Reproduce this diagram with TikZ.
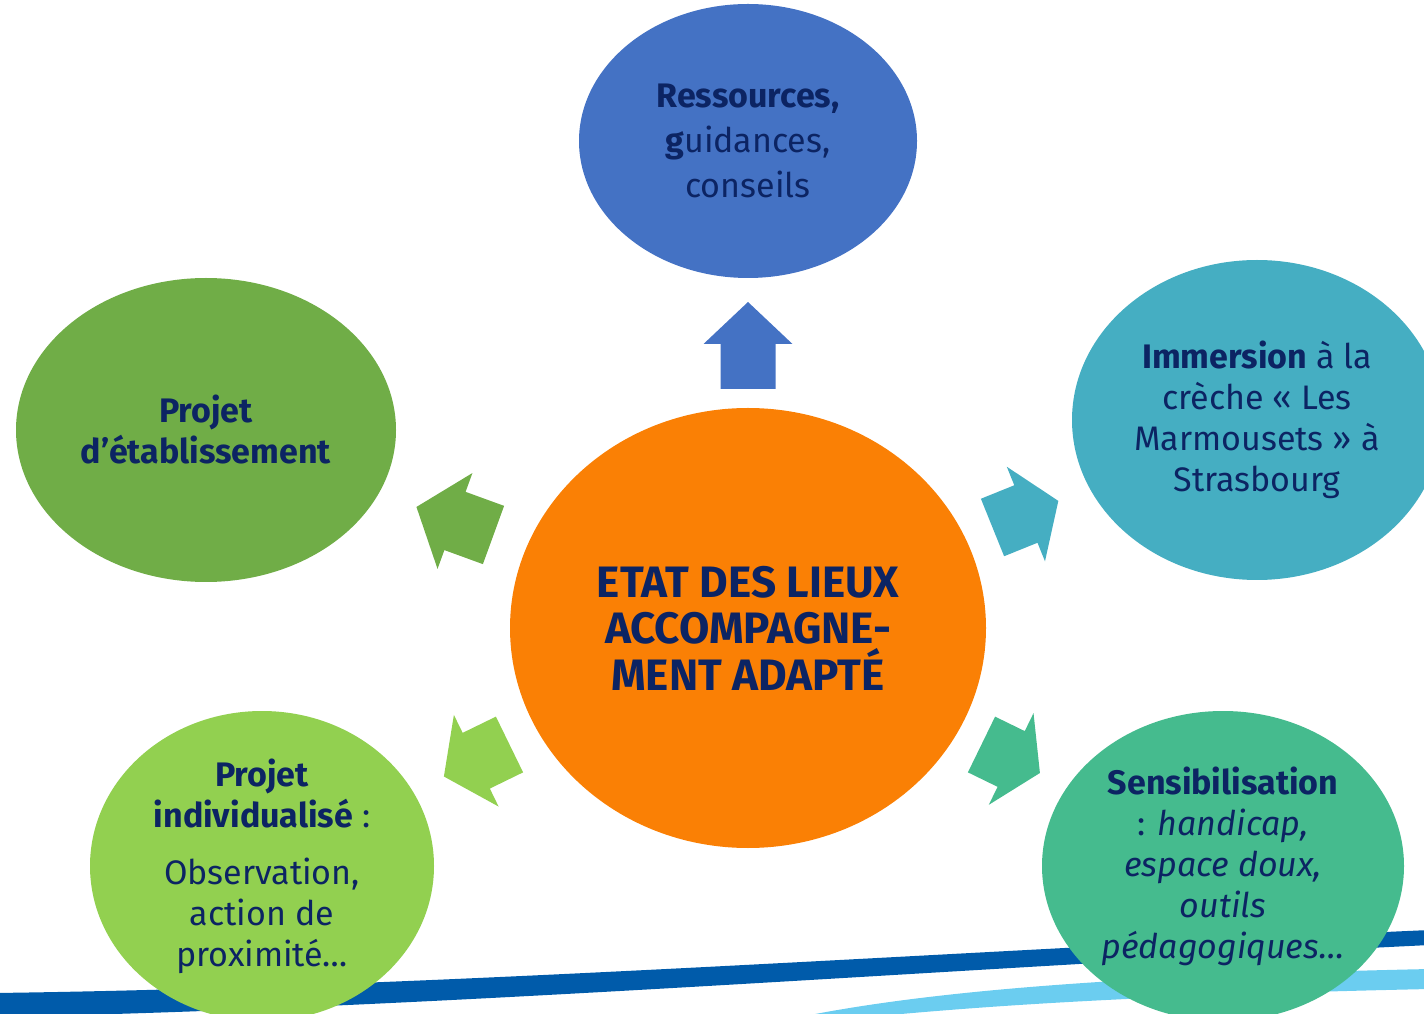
\documentclass[tikz,border=0pt]{standalone}
\usepackage{fontspec}
\setmainfont{Fira Sans}
\usetikzlibrary{shapes.geometric}

\definecolor{resblue}{HTML}{4472C4}
\definecolor{projgreen}{HTML}{70AD47}
\definecolor{immteal}{HTML}{45AEC2}
\definecolor{etatorange}{HTML}{FA8005}
\definecolor{indivgreen}{HTML}{92D050}
\definecolor{sensgreen}{HTML}{45BB8E}
\definecolor{textnavy}{HTML}{0C2463}
\definecolor{banddark}{HTML}{005BAA}
\definecolor{bandlight}{HTML}{6BCDF0}

\tikzset{
  bubble/.style={ellipse, inner sep=0pt, align=center, text=textnavy,
    font=\fontsize{34}{41}\selectfont},
}

\begin{document}
\begin{tikzpicture}[x=1pt, y=1pt]
\useasboundingbox (0,0) rectangle (1424,1013);
% bands at the bottom
\fill [banddark] (-5,20) .. controls (450,26) and (950,62) .. (1430,83)
  -- (1430,68) .. controls (950,45) and (450,5) .. (-5,-4) -- cycle;
\fill [bandlight] (810,-2) .. controls (950,25) and (1150,38) .. (1430,44)
  -- (1430,24) .. controls (1150,18) and (1000,8) .. (890,-2) -- cycle;
% bubbles
\node [bubble, fill=resblue, minimum width=338, minimum height=274,
  font=\fontsize{34}{45}\selectfont] (res) at (748,872)
  {\textbf{Ressources,}\\\textbf{g}uidances,\\conseils};
\node [bubble, fill=projgreen, minimum width=380, minimum height=304] (proj) at (206,583)
  {\textbf{Projet}\\\textbf{d’établissement}};
\node [bubble, fill=immteal, minimum width=370, minimum height=320] (imm) at (1257,593)
  {\textbf{Immersion} à la\\crèche « Les\\Marmousets » à\\Strasbourg};
\node [bubble, fill=etatorange, minimum width=476, minimum height=440,
  font=\fontsize{44}{46.5}\selectfont\bfseries] (etat) at (748,385)
  {ETAT DES LIEUX\\ACCOMPAGNE-\\MENT ADAPTÉ};
\node [bubble, fill=indivgreen, minimum width=344, minimum height=310] (indiv) at (262,147)
  {\textbf{Projet}\\\textbf{individualisé} :\\[16pt]Observation,\\action de\\proximité…};
\node [bubble, fill=sensgreen, minimum width=362, minimum height=310] (sens) at (1223,147)
  {\textbf{Sensibilisation}\\: \textit{handicap,}\\\textit{espace doux,}\\\textit{outils}\\\textit{pédagogiques…}};
% block arrows around the centre
\foreach \tx/\ty/\ang/\len/\hd/\sw/\hw/\col in {
    748/624/90/87/42/27.5/44.5/resblue,
    493.5/478/160/82/41/31/51/projgreen,
    992.5/485.5/22/71/35/31/51/immteal,
    509.5/268.5/206/73/36/31/51/indivgreen,
    981.5/268.5/-26/65/32/31/51/sensgreen}
  \fill [\col, shift={(\tx,\ty)}, rotate=\ang]
    (0,-\sw) -- (\len-\hd,-\sw) -- (\len-\hd,-\hw) -- (\len,0)
    -- (\len-\hd,\hw) -- (\len-\hd,\sw) -- (0,\sw) -- cycle;
\end{tikzpicture}
\end{document}
